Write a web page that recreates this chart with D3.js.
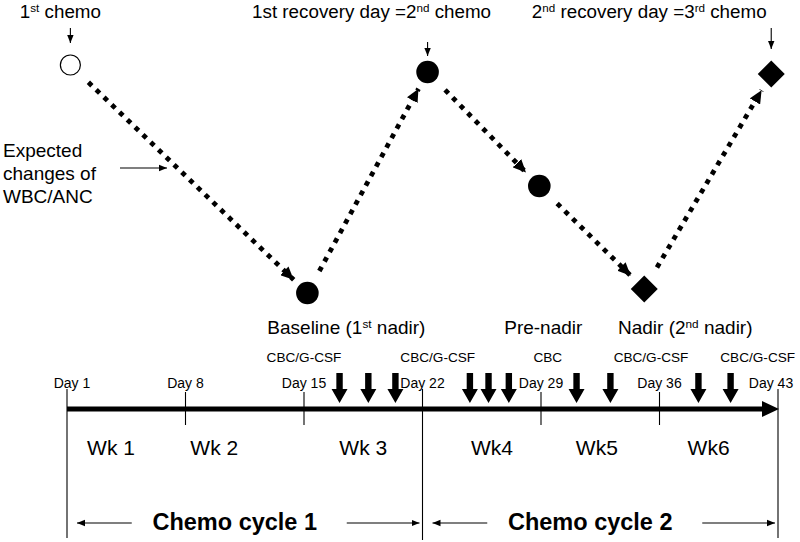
<!DOCTYPE html>
<html><head><meta charset="utf-8">
<script src="https://cdn.jsdelivr.net/npm/d3@7"></script>
<style>
body{margin:0;background:#fff}
svg{display:block}
text{font-family:"Liberation Sans",Arial,Helvetica,sans-serif;fill:#000}
</style>
</head><body>
<svg id="c" width="800" height="542"></svg>
<script>
// ---------------- data ----------------
const dayTicks = [1, 8, 15, 22, 29, 36, 43];
const dayTickLabels = ["Day 1", "Day 8", "Day 15", "Day 22", "Day 29", "Day 36", "Day 43"];
const weekLabels = ["Wk 1", "Wk 2", "Wk 3", "Wk4", "Wk5", "Wk6"];
const weekLabelDays = [3.6, 9.7, 18.5, 26.1, 32.3, 38.9];
const testLabels = ["CBC/G-CSF", "CBC/G-CSF", "CBC", "CBC/G-CSF", "CBC/G-CSF"];
const testLabelDays = [15, 22.9, 29.4, 35.5, 41.8];
const testArrowDays = [17.1, 18.8, 20.4, 24.8, 25.9, 27.1, 31.1, 33.1, 38.3, 40.2];
const eventDays = [1.2, 15.2, 22.3, 28.9, 35.1, 42.6];
const wbcLevels = [100, 3, 97, 48.5, 4.7, 96.2];
const eventShapes = ["open", "circle", "circle", "circle", "diamond", "diamond"];
const topLabels = ["1{st} chemo", "1st recovery day =2{nd} chemo", "2{nd} recovery day =3{rd} chemo"];
const topLabelEvents = [0, 2, 5];
const bottomLabels = ["Baseline (1{st} nadir)", "Pre-nadir", "Nadir (2{nd} nadir)"];
const bottomLabelEvents = [1, 3, 4];
const noteLines = ["Expected", "changes of", "WBC/ANC"];
const cycleNames = ["Chemo cycle 1", "Chemo cycle 2"];
const cycleStartDays = [1, 22];
const cycleEndDays = [22, 43];

// ---------------- layout ----------------
const svg = d3.select("#c");
const x = d3.scaleLinear().domain([1, 43]).range([67, 778]);
const y = d3.scaleLinear().domain([0, 100]).range([300, 65]);
const axisY = 409;

const defs = svg.append("defs");
defs.append("marker").attr("id", "thin").attr("markerUnits", "userSpaceOnUse")
  .attr("markerWidth", 9).attr("markerHeight", 8).attr("refX", 8).attr("refY", 4).attr("orient", "auto")
  .append("path").attr("d", "M0,0.8 L8,4 L0,7.2 Z").attr("fill", "#000");
defs.append("marker").attr("id", "tri").attr("markerUnits", "userSpaceOnUse")
  .attr("markerWidth", 14).attr("markerHeight", 12).attr("refX", 13).attr("refY", 6).attr("orient", "auto")
  .append("path").attr("d", "M0,0 L13,6 L0,12 Z").attr("fill", "#000");

function richText(sel, str, size) {
  const parts = str.split(/(\{[^}]*\})/).filter(s => s.length);
  parts.forEach(p => {
    if (p.startsWith("{")) {
      sel.append("tspan").attr("baseline-shift", "super").attr("font-size", size * 0.62).text(p.slice(1, -1));
    } else {
      sel.append("tspan").attr("font-size", size).text(p);
    }
  });
}

// ---------- top: expected WBC/ANC curve ----------
const pts = eventDays.map((d, i) => ({ x: x(d), y: y(wbcLevels[i]), shape: eventShapes[i] }));

const segs = d3.pairs(pts);
svg.append("g").selectAll("path").data(segs).join("path")
  .attr("d", ([a, b]) => {
    const dx = b.x - a.x, dy = b.y - a.y, L = Math.hypot(dx, dy);
    const ux = dx / L, uy = dy / L;
    const p = d3.path();
    p.moveTo(a.x + ux * 25, a.y + uy * 25);
    p.lineTo(b.x - ux * 19, b.y - uy * 19);
    return p.toString();
  })
  .attr("fill", "none").attr("stroke", "#000").attr("stroke-width", 4.8)
  .attr("stroke-dasharray", "4.8,6").attr("marker-end", "url(#tri)");

const mk = svg.append("g");
pts.forEach((p, i) => {
  if (p.shape === "open") {
    mk.append("circle").attr("cx", p.x).attr("cy", p.y).attr("r", 10)
      .attr("fill", "#fff").attr("stroke", "#000").attr("stroke-width", 1.2);
  } else if (p.shape === "circle") {
    mk.append("circle").attr("cx", p.x).attr("cy", p.y).attr("r", 11.3).attr("fill", "#000");
  } else {
    const h = 13.5;
    mk.append("path").attr("transform", `translate(${p.x},${p.y})`)
      .attr("d", `M0,${-h} L${h},0 L0,${h} L${-h},0 Z`).attr("fill", "#000");
  }
});

// top labels and pointer arrows
const topDx = [-10, -56, -122];
const pointer = [[28, 43], [42, 56], [28, 49]];
topLabels.forEach((t, i) => {
  const p = pts[topLabelEvents[i]];
  const tx = svg.append("text").attr("x", p.x + topDx[i]).attr("y", 18).attr("text-anchor", "middle");
  richText(tx, t, 18.8);
  svg.append("line").attr("x1", p.x).attr("x2", p.x).attr("y1", pointer[i][0]).attr("y2", pointer[i][1])
    .attr("stroke", "#000").attr("stroke-width", 1.1).attr("marker-end", "url(#thin)");
});

// bottom labels
const botDx = [39, 4, 41];
bottomLabels.forEach((t, i) => {
  const p = pts[bottomLabelEvents[i]];
  const tx = svg.append("text").attr("x", p.x + botDx[i]).attr("y", 334).attr("text-anchor", "middle");
  richText(tx, t, 19);
});

// note
const note = svg.append("text").attr("x", 3).attr("font-size", 19);
noteLines.forEach((l, i) => note.append("tspan").attr("x", 3).attr("y", 157 + i * 23).text(l));
svg.append("line").attr("x1", 120).attr("x2", 167).attr("y1", 168).attr("y2", 168)
  .attr("stroke", "#000").attr("stroke-width", 1.1).attr("marker-end", "url(#thin)");

// ---------- timeline ----------
const tl = svg.append("g");
tl.append("line").attr("x1", x(1)).attr("x2", x(43) - 14).attr("y1", axisY).attr("y2", axisY)
  .attr("stroke", "#000").attr("stroke-width", 5);
tl.append("path").attr("d", `M${x(43) - 16},${axisY - 8} L${x(43) + 1},${axisY} L${x(43) - 16},${axisY + 8} Z`).attr("fill", "#000");

// day ticks
dayTicks.forEach((d, i) => {
  const full = (i === 0 || i === 3 || i === 6);
  tl.append("line").attr("x1", x(d)).attr("x2", x(d))
    .attr("y1", full ? 389 : 392).attr("y2", full ? (i === 3 ? 540 : 538) : 425)
    .attr("stroke", "#000").attr("stroke-width", 1.1);
  tl.append("text").attr("x", x(d) + (i === 0 ? 5 : (i === 6 ? -7 : 0))).attr("y", 388)
    .attr("text-anchor", "middle").attr("font-size", 14).text(dayTickLabels[i]);
});

// test labels
testLabels.forEach((t, i) => {
  tl.append("text").attr("x", x(testLabelDays[i])).attr("y", 362).attr("text-anchor", "middle")
    .attr("font-size", 13.6).text(t);
});

// thick down arrows
tl.selectAll("path.dn").data(testArrowDays).join("path").attr("class", "dn")
  .attr("d", d => {
    const cx = x(d);
    return `M${cx - 3.2},373 L${cx + 3.2},373 L${cx + 3.2},389 L${cx + 8},389 L${cx},403 L${cx - 8},389 L${cx - 3.2},389 Z`;
  })
  .attr("fill", "#000");

// week labels
weekLabels.forEach((w, i) => {
  tl.append("text").attr("x", x(weekLabelDays[i])).attr("y", 455).attr("text-anchor", "middle")
    .attr("font-size", 21).text(w);
});

// chemo cycles
cycleNames.forEach((c, i) => {
  const a = x(cycleStartDays[i]), b = x(cycleEndDays[i]);
  const mid = (a + b) / 2 - 10;
  tl.append("text").attr("x", mid).attr("y", 530).attr("text-anchor", "middle")
    .attr("font-size", 23.5).attr("font-weight", "bold").text(c);
  tl.append("line").attr("x1", mid - 103).attr("x2", a + 10).attr("y1", 523).attr("y2", 523)
    .attr("stroke", "#000").attr("stroke-width", 1.1).attr("marker-end", "url(#thin)");
  tl.append("line").attr("x1", mid + 112).attr("x2", b - 3).attr("y1", 523).attr("y2", 523)
    .attr("stroke", "#000").attr("stroke-width", 1.1).attr("marker-end", "url(#thin)");
});
</script>
</body></html>
